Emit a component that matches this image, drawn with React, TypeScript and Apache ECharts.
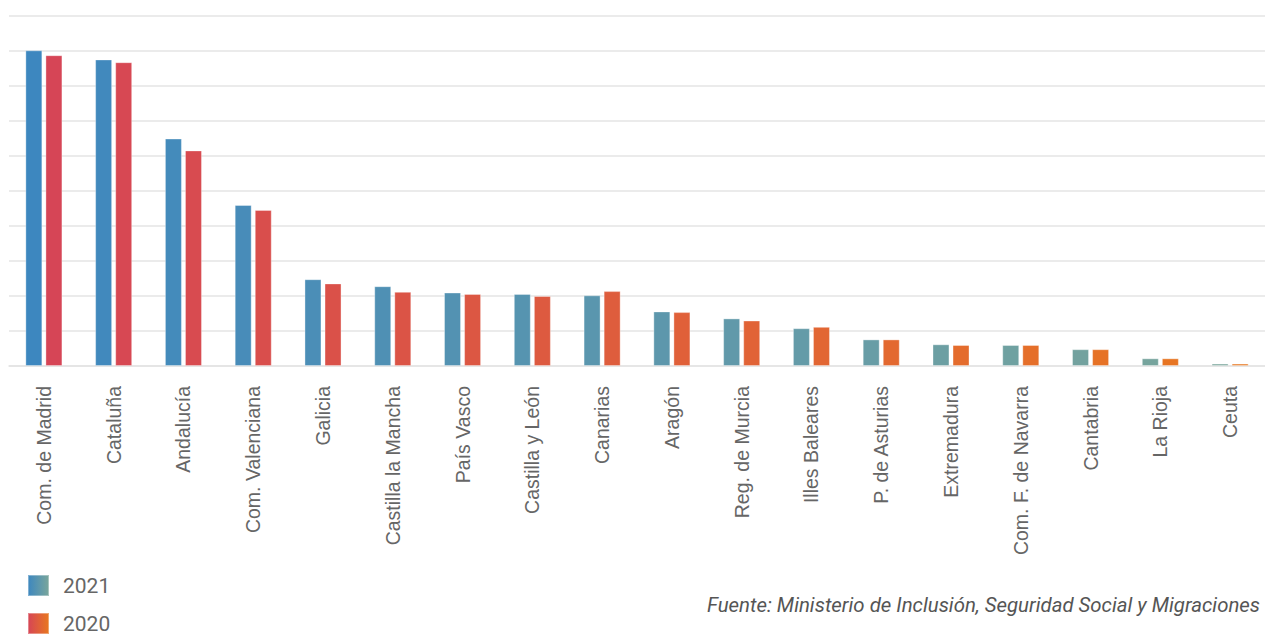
import React, { useEffect, useRef } from "react";
import * as echarts from "echarts";

const categories: string[] = [
  "Com. de Madrid",
  "Cataluña",
  "Andalucía",
  "Com. Valenciana",
  "Galicia",
  "Castilla la Mancha",
  "País Vasco",
  "Castilla y León",
  "Canarias",
  "Aragón",
  "Reg. de Murcia",
  "Illes Baleares",
  "P. de Asturias",
  "Extremadura",
  "Com. F. de Navarra",
  "Cantabria",
  "La Rioja",
  "Ceuta",
];

const values2021: number[] = [451, 438, 325, 230, 124, 114, 105, 103, 101, 78, 68, 54, 38, 31, 30, 24, 11, 3.5];
const values2020: number[] = [444, 434, 308, 223, 118, 106, 103, 100, 107, 77, 65, 56, 38, 30, 30, 24, 11, 3.5];

const yMax = 500;
const yInterval = 50;

const source = "Fuente: Ministerio de Inclusión, Seguridad Social y Migraciones";

const colors2021: [string, string] = ["#3d87bf", "#7aa69b"];
const colors2020: [string, string] = ["#d64556", "#e87820"];

function hexToRgb(h: string): number[] {
  const n = parseInt(h.slice(1), 16);
  return [(n >> 16) & 255, (n >> 8) & 255, n & 255];
}
function mix(a: string, b: string, t: number): string {
  const ca = hexToRgb(a);
  const cb = hexToRgb(b);
  const c = ca.map((v, i) => Math.round(v + (cb[i] - v) * t));
  return `rgb(${c[0]},${c[1]},${c[2]})`;
}

export default function App() {
  const ref = useRef<HTMLDivElement>(null);
  useEffect(() => {
    if (!ref.current) return;
    const chart = echarts.init(ref.current, null, { renderer: "svg" });
    const n = categories.length;
    const mk = (vals: number[], pal: [string, string]) =>
      vals.map((v, i) => ({
        value: v,
        itemStyle: { color: mix(pal[0], pal[1], i / (n - 1)) },
      }));
    const grad = (pal: [string, string]) =>
      new echarts.graphic.LinearGradient(0, 0, 1, 0, [
        { offset: 0, color: pal[0] },
        { offset: 1, color: pal[1] },
      ]);
    const legendBase = {
      orient: "vertical",
      left: 27,
      itemWidth: 21,
      itemHeight: 21,
      icon: "rect",
      padding: 0,
      textStyle: {
        fontSize: 21,
        lineHeight: 21,
        color: "#666",
        fontFamily: "Roboto",
        padding: [0, 0, 0, 9],
      },
    };
    chart.setOption({
      animation: false,
      grid: { left: 9, top: 16, width: 1264, height: 350, containLabel: false },
      legend: [
        {
          ...legendBase,
          top: 574,
          data: [{ name: "2021", itemStyle: { color: grad(colors2021) } }],
        },
        {
          ...legendBase,
          top: 612,
          data: [{ name: "2020", itemStyle: { color: grad(colors2020) } }],
        },
      ],
      xAxis: {
        type: "category",
        data: categories,
        axisLine: { lineStyle: { color: "#e4e4e4", width: 1.5 } },
        axisTick: { show: false },
        axisLabel: {
          rotate: 90,
          margin: 20,
          fontSize: 19.5,
          color: "#666",
          fontFamily: "Arial",
          interval: 0,
        },
      },
      yAxis: {
        type: "value",
        min: 0,
        max: yMax,
        interval: yInterval,
        axisLabel: { show: false },
        axisLine: { show: false },
        axisTick: { show: false },
        splitLine: { lineStyle: { color: "#e4e4e4", width: 1.5 } },
      },
      series: [
        {
          name: "2021",
          type: "bar",
          barWidth: 17,
          barGap: "18%",
          data: mk(values2021, colors2021),
          itemStyle: { borderColor: "rgba(255,255,255,0.35)", borderWidth: 1 },
        },
        {
          name: "2020",
          type: "bar",
          barWidth: 17,
          data: mk(values2020, colors2020),
          itemStyle: { borderColor: "rgba(255,255,255,0.35)", borderWidth: 1 },
        },
      ],
      graphic: [
        {
          type: "text",
          left: 707,
          top: 595,
          style: {
            text: source,
            fontSize: 20.4,
            fontStyle: "italic",
            fontFamily: "Roboto",
            fill: "#555",
          },
        },
      ],
    });
    return () => chart.dispose();
  }, []);
  return (
    <div
      ref={ref}
      style={{ position: "absolute", left: 0, top: 0, width: 1265, height: 635, background: "#fff" }}
    />
  );
}
